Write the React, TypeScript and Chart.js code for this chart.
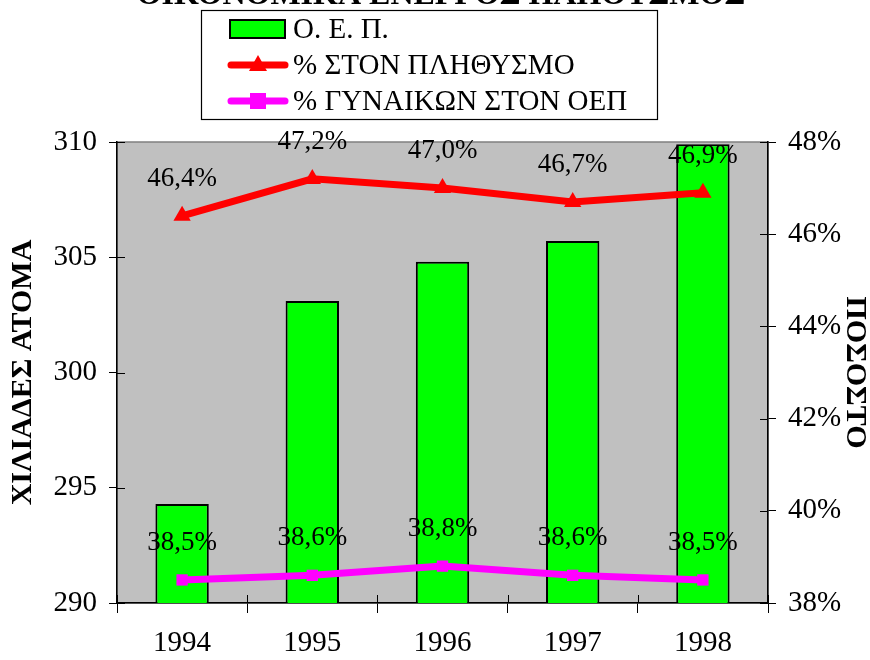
import React, { useEffect, useRef } from "react";
import { Chart, registerables } from "chart.js";

Chart.register(...registerables);

const TITLE = "ΟΙΚΟΝΟΜΙΚΑ ΕΝΕΡΓΟΣ ΠΛΗΘΥΣΜΟΣ";
const years = ["1994", "1995", "1996", "1997", "1998"];
const oep = [294.3, 303.1, 304.8, 305.7, 309.9];
const pctPopulation = [46.4, 47.2, 47.0, 46.7, 46.9];
const pctWomen = [38.5, 38.6, 38.8, 38.6, 38.5];
const leftTicks = { min: 290, max: 310, step: 5 };
const rightTicks = { min: 38, max: 48, step: 2 };
const labelOep = "Ο. Ε. Π.";
const labelPop = "% ΣΤΟΝ ΠΛΗΘΥΣΜΟ";
const labelWomen = "% ΓΥΝΑΙΚΩΝ ΣΤΟΝ ΟΕΠ";
const leftTitle = "ΧΙΛΙΑΔΕΣ ΑΤΟΜΑ";
const rightTitle = "ΠΟΣΟΣΤΟ";

const SERIF = "'Liberation Serif', 'Times New Roman', serif";

const fmtPct = (v: number) => v.toFixed(1).replace(".", ",") + "%";

const backgroundPlugin = {
  id: "plotBg",
  beforeDraw(chart: any) {
    const { ctx, chartArea: a } = chart;
    ctx.save();
    ctx.fillStyle = "#C0C0C0";
    ctx.fillRect(a.left, a.top, a.right - a.left, a.bottom - a.top);
    ctx.strokeStyle = "#808080";
    ctx.lineWidth = 1.5;
    ctx.strokeRect(a.left, a.top, a.right - a.left, a.bottom - a.top);
    ctx.restore();
  },
  beforeDatasetsDraw(chart: any) {
    const { ctx, chartArea: a, scales } = chart;
    ctx.save();
    ctx.strokeStyle = "#000";
    ctx.lineWidth = 1;
    for (const t of scales.y.ticks) {
      const y = Math.round(scales.y.getPixelForValue(t.value)) + 0.5;
      ctx.beginPath();
      ctx.moveTo(a.left, y);
      ctx.lineTo(a.left + 8, y);
      ctx.stroke();
    }
    for (const t of scales.y1.ticks) {
      const y = Math.round(scales.y1.getPixelForValue(t.value)) + 0.5;
      ctx.beginPath();
      ctx.moveTo(a.right - 8, y);
      ctx.lineTo(a.right, y);
      ctx.stroke();
    }
    const n = years.length;
    for (let i = 0; i <= n; i++) {
      const x = Math.round(a.left + ((a.right - a.left) * i) / n) + 0.5;
      ctx.beginPath();
      ctx.moveTo(x, a.bottom - 8);
      ctx.lineTo(x, a.bottom);
      ctx.stroke();
    }
    ctx.restore();
  },
};

const overlayPlugin = {
  id: "overlay",
  afterDraw(chart: any) {
    const { ctx } = chart;
    ctx.save();
    // title (cut off at the top like the reference)
    ctx.fillStyle = "#000";
    ctx.font = `bold 32px ${SERIF}`;
    ctx.textAlign = "center";
    ctx.textBaseline = "alphabetic";
    ctx.fillText(TITLE, 441, 4);

    // data labels
    ctx.font = `27px ${SERIF}`;
    ctx.textBaseline = "middle";
    [1, 2].forEach((di) => {
      const meta = chart.getDatasetMeta(di);
      const data = chart.data.datasets[di].data as number[];
      meta.data.forEach((pt: any, i: number) => {
        ctx.fillText(fmtPct(data[i]), pt.x, pt.y - 37);
      });
    });

    // legend
    const bx = 201, by = 10, bw = 456, bh = 109;
    ctx.fillStyle = "#fff";
    ctx.fillRect(bx, by, bw, bh);
    ctx.strokeStyle = "#000";
    ctx.lineWidth = 1.2;
    ctx.strokeRect(bx + 0.5, by + 0.5, bw, bh);
    const ds = chart.data.datasets;
    const rows = [29, 65, 101];
    const textX = 293;
    // row 1: bar swatch
    ctx.fillStyle = ds[0].backgroundColor;
    ctx.fillRect(230, 20, 55, 18);
    ctx.strokeStyle = "#000";
    ctx.lineWidth = 2;
    ctx.strokeRect(230, 20, 55, 18);
    // rows 2/3: line swatches
    [1, 2].forEach((di, k) => {
      const y = rows[di];
      ctx.strokeStyle = ds[di].borderColor;
      ctx.lineWidth = 7;
      ctx.lineCap = "round";
      ctx.beginPath();
      ctx.moveTo(231, y);
      ctx.lineTo(285, y);
      ctx.stroke();
      ctx.fillStyle = ds[di].borderColor;
      if (k === 0) {
        ctx.beginPath();
        ctx.moveTo(258, y - 10);
        ctx.lineTo(267, y + 6);
        ctx.lineTo(249, y + 6);
        ctx.closePath();
        ctx.fill();
      } else {
        ctx.fillRect(250, y - 8, 16, 16);
      }
    });
    ctx.fillStyle = "#000";
    ctx.font = `29px ${SERIF}`;
    ctx.textAlign = "left";
    ctx.textBaseline = "middle";
    ds.forEach((d: any, i: number) => {
      ctx.fillText(d.label, textX, rows[i] + 1);
    });
    ctx.restore();
  },
};

export default function App() {
  const ref = useRef<HTMLCanvasElement | null>(null);

  useEffect(() => {
    if (!ref.current) return;
    const tickFont = { family: SERIF, size: 29 };
    const titleFont = { family: SERIF, size: 30, weight: "bold" as const, lineHeight: 1 };
    const chart = new Chart(ref.current, {
      type: "bar",
      data: {
        labels: years,
        datasets: [
          {
            type: "bar",
            label: labelOep,
            data: oep,
            yAxisID: "y",
            backgroundColor: "#00FF00",
            borderColor: "#000000",
            borderWidth: 2,
            barPercentage: 0.41,
            categoryPercentage: 1,
            order: 3,
          },
          {
            type: "line",
            label: labelPop,
            data: pctPopulation,
            yAxisID: "y1",
            borderColor: "#FF0000",
            backgroundColor: "#FF0000",
            borderWidth: 7,
            pointStyle: "triangle",
            pointRadius: 10,
            pointBorderWidth: 0,
            pointBackgroundColor: "#FF0000",
            order: 1,
          } as any,
          {
            type: "line",
            label: labelWomen,
            data: pctWomen,
            yAxisID: "y1",
            borderColor: "#FF00FF",
            backgroundColor: "#FF00FF",
            borderWidth: 7,
            pointStyle: "rect",
            pointRadius: 8,
            pointBorderWidth: 0,
            pointBackgroundColor: "#FF00FF",
            order: 2,
          } as any,
        ],
      },
      options: {
        responsive: false,
        animation: false,
        layout: { padding: { top: 142, left: 0, right: 0, bottom: 0 } },
        plugins: {
          legend: { display: false },
          title: { display: false },
          tooltip: { enabled: false },
        },
        scales: {
          x: {
            grid: {
              display: true,
              drawOnChartArea: false,
              drawTicks: true,
              tickLength: 10,
              color: "#000",
              offset: true,
            },
            border: { display: true, color: "#000", width: 1.5 },
            ticks: { font: tickFont, color: "#000", padding: 13 },
            afterFit: (s: any) => {
              s.height = 57;
            },
          },
          y: {
            position: "left",
            min: leftTicks.min,
            max: leftTicks.max,
            ticks: { stepSize: leftTicks.step, font: tickFont, color: "#000", padding: 12 },
            grid: { drawOnChartArea: false, drawTicks: true, tickLength: 8, color: "#000" },
            border: { display: true, color: "#000", width: 1.5 },
            title: { display: true, text: leftTitle, font: titleFont, color: "#000", padding: { top: 8, bottom: 0 } },
            afterFit: (s: any) => {
              s.width = 117;
            },
          },
          y1: {
            position: "right",
            min: rightTicks.min,
            max: rightTicks.max,
            ticks: {
              stepSize: rightTicks.step,
              font: tickFont,
              color: "#000",
              padding: 12,
              callback: (v: any) => `${v}%`,
            },
            grid: { drawOnChartArea: false, drawTicks: true, tickLength: 8, color: "#000" },
            border: { display: true, color: "#000", width: 1.5 },
            title: { display: true, text: rightTitle, font: titleFont, color: "#000", padding: { top: 0, bottom: 0 } },
            afterFit: (s: any) => {
              s.width = 102;
            },
          },
        },
      } as any,
      plugins: [backgroundPlugin, overlayPlugin],
    });
    return () => chart.destroy();
  }, []);

  return (
    <div style={{ position: "absolute", left: 0, top: 0, width: 870, height: 660, background: "#fff" }}>
      <canvas ref={ref} width={870} height={660} style={{ display: "block" }} />
    </div>
  );
}
